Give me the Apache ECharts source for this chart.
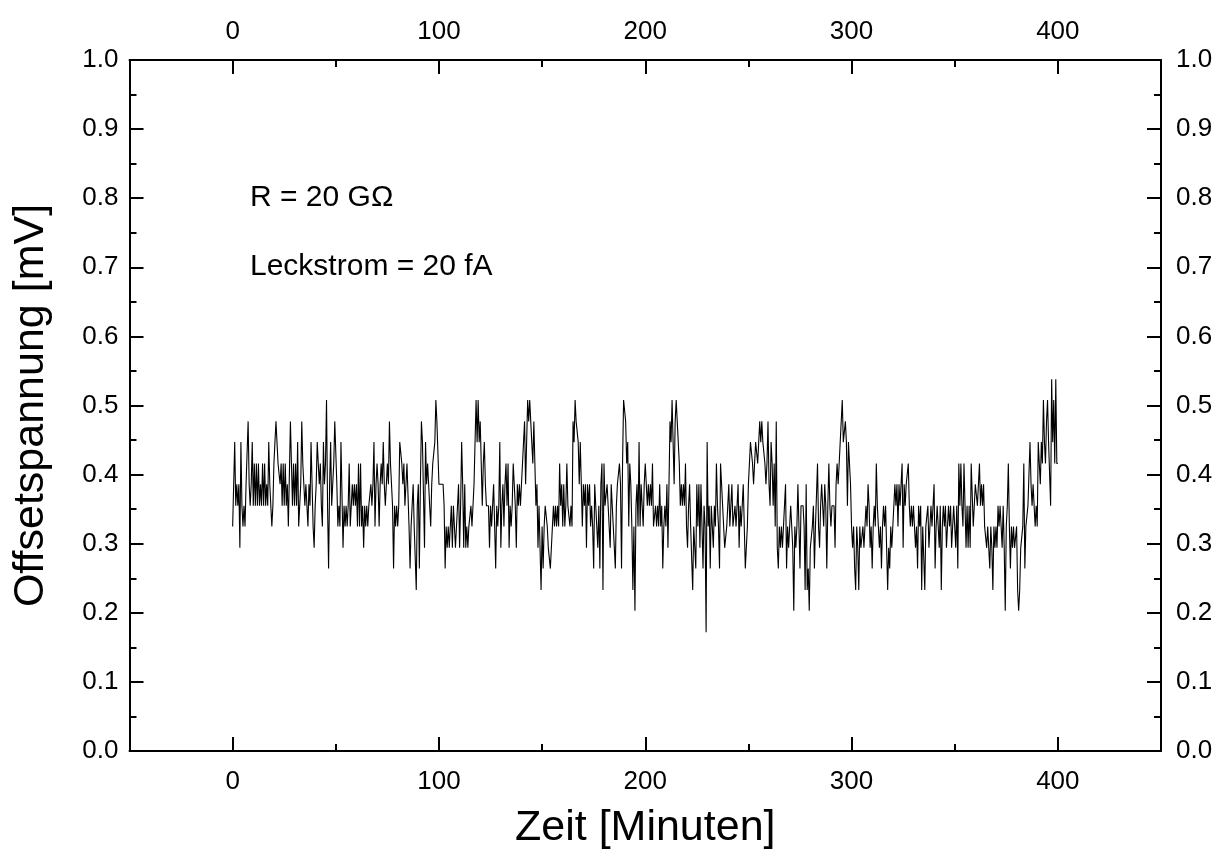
<!DOCTYPE html>
<html><head><meta charset="utf-8">
<script src="https://cdn.jsdelivr.net/npm/echarts@6/dist/echarts.min.js"></script>
<style>html,body{margin:0;padding:0;background:#fff}#c{width:1218px;height:852px}</style>
</head><body><div id="c"></div>
<script>
// Sampling interval of the measurement (minutes)
const sampleStepMin = 0.5;
// Offset voltage [mV], consecutive samples every 0.5 min
const offsetMin000 = [
.325,.386,.447,.355,.386,.355,.386,.294,.447,.355,
.325,.355,.325,.386,.386,.477,.386,.355,.386,.447,
.355,.416,.355,.416,.355,.416,.355,.386,.355,.416,
.355,.416,.355,.386,.355,.447,.386,.355,.325,.355,
.416,.447,.477,.477,.416,.416,.386,.416,.355,.416,
.355,.416,.355,.386,.325,.325,.477,.416,.355,.416,
.355,.416,.355,.447,.325,.355,.386,.477,.416,.386,
.355,.386,.355,.325,.386,.355,.447,.386,.325,.294,
.355,.386,.447,.416,.386,.416,.355,.325,.447,.386,
.416,.508,.355,.264,.386,.447,.355,.386,.416,.477];
const offsetMin050 = [
.477,.386,.325,.355,.325,.447,.447,.294,.355,.325,
.355,.325,.355,.416,.325,.355,.386,.355,.386,.355,
.386,.325,.416,.325,.416,.325,.355,.294,.355,.325,
.355,.325,.355,.355,.386,.355,.386,.447,.325,.386,
.416,.386,.325,.386,.416,.386,.447,.386,.355,.355,
.416,.386,.477,.416,.386,.355,.264,.355,.325,.355,
.325,.355,.447,.447,.416,.386,.416,.355,.355,.416,
.416,.325,.264,.325,.355,.386,.325,.325,.233,.355,
.386,.264,.386,.477,.447,.447,.294,.447,.386,.416,
.386,.355,.325,.386,.416,.416,.447,.508,.477,.477];
const offsetMin100 = [
.386,.386,.386,.386,.386,.355,.264,.325,.294,.325,
.294,.325,.355,.294,.355,.325,.294,.325,.355,.386,
.294,.355,.447,.386,.294,.386,.294,.325,.294,.325,
.325,.355,.325,.355,.386,.447,.508,.447,.508,.447,
.477,.477,.355,.416,.447,.386,.355,.355,.355,.294,
.355,.325,.355,.386,.325,.264,.355,.325,.355,.447,
.294,.355,.386,.325,.386,.416,.355,.416,.294,.355,
.325,.355,.416,.416,.355,.294,.386,.355,.386,.355,
.386,.416,.447,.477,.386,.447,.508,.477,.508,.477,
.477,.416,.477,.416,.355,.386,.294,.355,.294,.233];
const offsetMin150 = [
.325,.264,.325,.355,.355,.325,.294,.294,.264,.264,
.325,.355,.325,.355,.325,.355,.325,.416,.355,.386,
.325,.386,.325,.355,.416,.355,.355,.325,.355,.325,
.477,.447,.508,.477,.477,.447,.386,.447,.386,.325,
.386,.355,.386,.294,.386,.355,.386,.325,.355,.325,
.264,.386,.355,.325,.294,.355,.264,.386,.416,.233,
.416,.355,.355,.386,.386,.325,.294,.386,.355,.325,
.325,.264,.355,.386,.386,.416,.386,.264,.416,.508,
.508,.477,.416,.447,.325,.416,.386,.325,.233,.325,
.203,.355,.386,.325,.447,.325,.386,.355,.325,.386];
const offsetMin200 = [
.416,.386,.355,.386,.355,.386,.355,.416,.325,.325,
.355,.325,.355,.325,.386,.325,.355,.264,.325,.355,
.325,.386,.294,.386,.477,.447,.508,.447,.386,.477,
.508,.477,.447,.416,.355,.386,.355,.386,.355,.416,
.325,.294,.355,.386,.325,.325,.233,.325,.325,.264,
.386,.325,.386,.294,.386,.325,.264,.355,.325,.172,
.447,.325,.355,.264,.355,.325,.294,.355,.325,.416,
.355,.325,.264,.416,.386,.355,.325,.294,.294,.325,
.355,.386,.325,.355,.386,.325,.325,.355,.325,.355,
.386,.294,.355,.325,.355,.386,.325,.264,.264,.325];
const offsetMin250 = [
.386,.386,.447,.447,.416,.386,.386,.447,.447,.416,
.447,.477,.447,.477,.447,.447,.416,.386,.416,.477,
.386,.355,.447,.416,.355,.416,.325,.477,.294,.264,
.325,.294,.325,.294,.325,.325,.386,.264,.325,.294,
.325,.355,.325,.294,.203,.325,.294,.325,.386,.325,
.264,.355,.355,.355,.325,.233,.386,.233,.264,.203,
.294,.294,.325,.355,.264,.325,.325,.416,.325,.294,
.355,.386,.355,.325,.386,.355,.264,.355,.416,.355,
.325,.355,.355,.355,.294,.386,.416,.386,.416,.447,
.447,.508,.447,.447,.477,.447,.355,.447,.416,.386];
const offsetMin300 = [
.325,.294,.325,.264,.233,.325,.294,.233,.325,.294,
.294,.325,.294,.325,.355,.325,.386,.355,.294,.325,
.264,.325,.355,.325,.416,.355,.325,.294,.325,.264,
.325,.355,.325,.355,.294,.233,.294,.264,.325,.294,
.325,.355,.386,.355,.386,.325,.386,.355,.386,.416,
.294,.386,.355,.386,.386,.416,.355,.325,.355,.325,
.355,.325,.294,.325,.264,.355,.325,.355,.233,.325,
.325,.233,.325,.325,.355,.294,.325,.355,.325,.325,
.386,.264,.325,.355,.325,.294,.355,.233,.325,.355,
.325,.355,.294,.325,.355,.325,.355,.294,.325,.355];
const offsetMin350 = [
.325,.294,.355,.264,.416,.355,.416,.355,.325,.416,
.355,.294,.355,.294,.355,.294,.416,.416,.325,.325,
.386,.386,.355,.386,.416,.355,.386,.355,.386,.325,
.325,.294,.325,.294,.264,.325,.294,.233,.325,.294,
.325,.294,.355,.325,.355,.325,.294,.355,.294,.203,
.325,.355,.416,.325,.264,.325,.294,.325,.294,.294,
.325,.233,.203,.233,.294,.294,.325,.416,.264,.325,
.325,.355,.355,.447,.386,.355,.386,.355,.325,.355,
.325,.447,.416,.386,.447,.416,.508,.447,.416,.477,
.508,.447,.447,.355,.538,.447,.508,.416,.538,.416,
.416];
// Tick labels
const xTickLabels = [0, 100, 200, 300, 400];
const yTickLabels = ['0.0','0.1','0.2','0.3','0.4','0.5','0.6','0.7','0.8','0.9','1.0'];
const xTitle = 'Zeit [Minuten]';
const yTitle = 'Offsetspannung [mV]';
const notes = ['R = 20 G\u03A9', 'Leckstrom = 20 fA'];

const offsetValues = [].concat(offsetMin000, offsetMin050, offsetMin100, offsetMin150,
  offsetMin200, offsetMin250, offsetMin300, offsetMin350);
const points = offsetValues.map((v, i) => [i * sampleStepMin, v]);

const F = "'Liberation Sans', Arial, Helvetica, sans-serif";
const K = '#000';
const TICK_FS = 26;
const TITLE_FS = 43;
const NOTE_FS = 30;

function frameX(pos, withName) {
  return {
    type: 'value', position: pos, min: -50, max: 450, interval: 100,
    axisLine: {show: true, onZero: false, lineStyle: {color: K, width: 2}},
    axisTick: {show: true, inside: true, length: 7, lineStyle: {color: K, width: 2}},
    minorTick: {show: true, splitNumber: 2, length: 14, lineStyle: {color: K, width: 2}},
    axisLabel: {show: false}, splitLine: {show: false}, minorSplitLine: {show: false},
    name: withName ? xTitle : '', nameLocation: 'middle', nameGap: 56,
    nameTextStyle: {fontFamily: F, fontSize: TITLE_FS, color: K}
  };
}
function labelX(pos, margin) {
  return {
    type: 'value', position: pos, min: -50, max: 450, interval: 50,
    axisLine: {show: false, onZero: false}, axisTick: {show: false},
    splitLine: {show: false},
    axisLabel: {show: true, margin: margin, fontFamily: F, fontSize: TICK_FS, color: K,
      formatter: v => xTickLabels.indexOf(Math.round(v)) >= 0 ? String(Math.round(v)) : ''}
  };
}
function frameY(pos, withName, margin) {
  return {
    type: 'value', position: pos, min: 0, max: 1, interval: 0.1,
    axisLine: {show: true, onZero: false, lineStyle: {color: K, width: 2}},
    axisTick: {show: true, inside: true, length: 14, lineStyle: {color: K, width: 2}},
    minorTick: {show: true, splitNumber: 2, length: 7, lineStyle: {color: K, width: 2}},
    splitLine: {show: false}, minorSplitLine: {show: false},
    axisLabel: {show: true, margin: margin, fontFamily: F, fontSize: TICK_FS, color: K,
      formatter: v => yTickLabels[Math.round(v * 10)]},
    name: withName ? yTitle : '', nameLocation: 'middle', nameGap: 77,
    nameTextStyle: {fontFamily: F, fontSize: TITLE_FS, color: K}
  };
}

const chart = echarts.init(document.getElementById('c'), null, {renderer: 'canvas'});
chart.setOption({
  animation: false,
  backgroundColor: '#fff',
  grid: {left: 129.5, right: 57, top: 60, bottom: 101, containLabel: false, outerBoundsMode: 'none'},
  xAxis: [frameX('bottom', true), labelX('bottom', 18), frameX('top', false), labelX('top', 15)],
  yAxis: [frameY('left', true, 11), frameY('right', false, 15)],
  series: [{
    type: 'line', xAxisIndex: 0, yAxisIndex: 0, data: points,
    showSymbol: false, symbol: 'none', silent: true,
    lineStyle: {color: K, width: 1.1}
  }],
  graphic: [
    {type: 'text', left: 250, top: 183, style: {text: notes[0], fontFamily: F, fontSize: NOTE_FS, fill: K}},
    {type: 'text', left: 250, top: 252, style: {text: notes[1], fontFamily: F, fontSize: NOTE_FS, fill: K}}
  ]
});
</script></body></html>
